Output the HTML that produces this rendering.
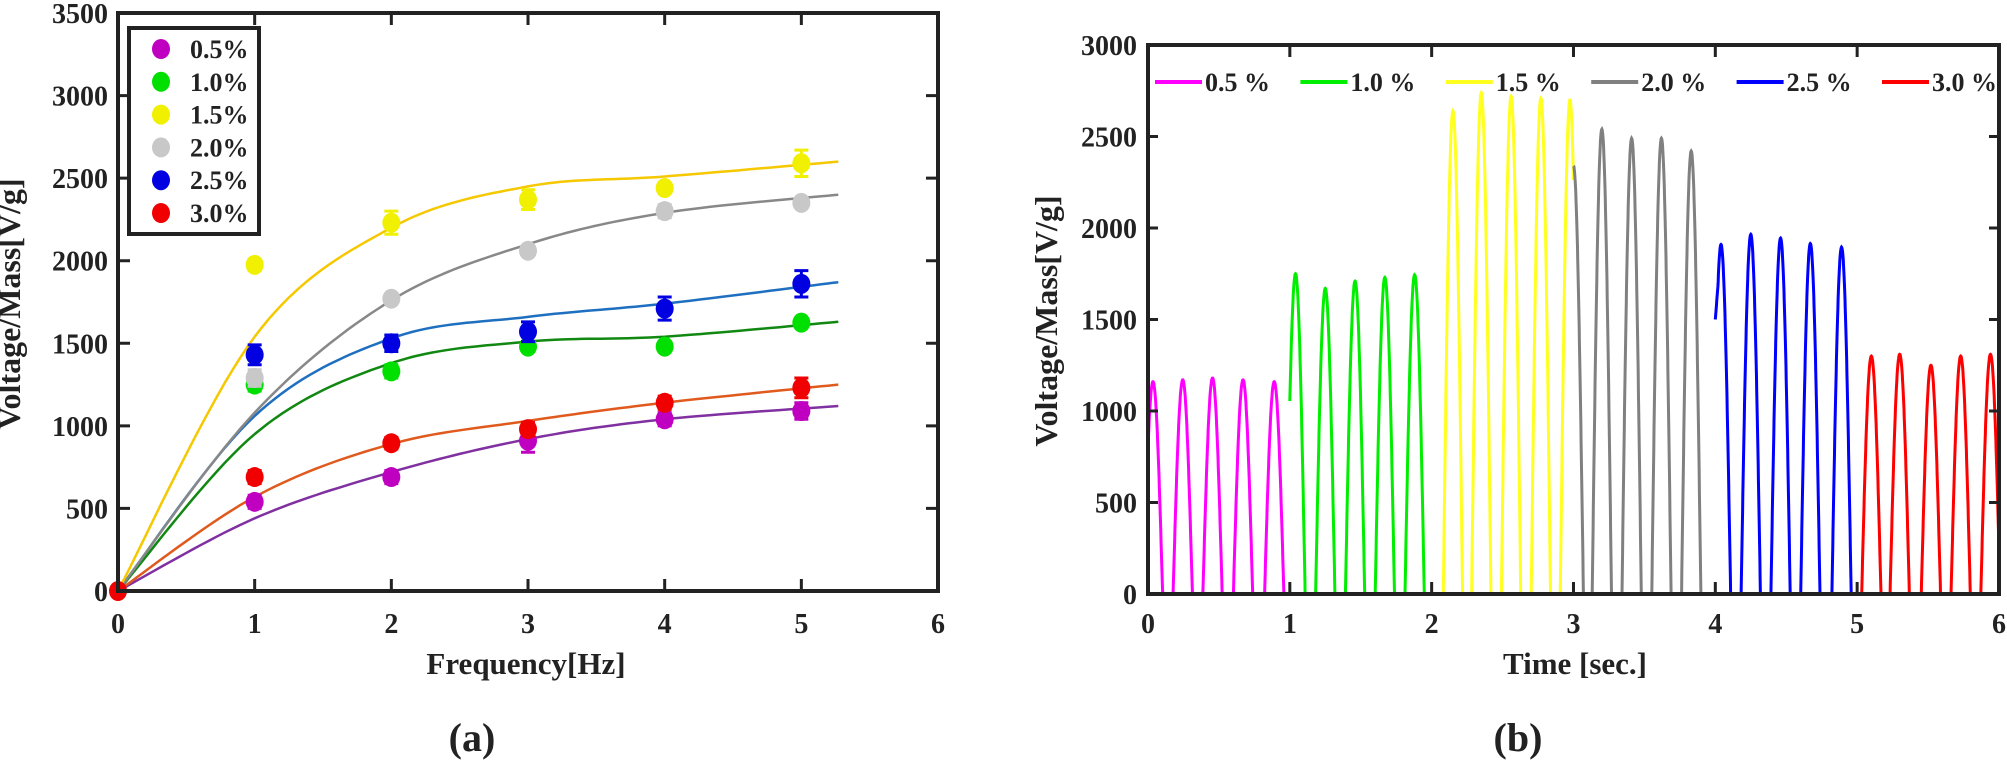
<!DOCTYPE html>
<html><head><meta charset="utf-8"><style>
html,body{margin:0;padding:0;background:#fff;}
svg text{font-family:"Liberation Serif",serif;font-weight:bold;fill:#222;}
</style></head><body>
<svg id="s" width="2007" height="763" viewBox="0 0 2007 763" xmlns="http://www.w3.org/2000/svg">
<g id="L"></g><g id="R"></g>
<text x="20" y="304" font-size="32" text-anchor="middle" transform="rotate(-90 20 304)">Voltage/Mass[V/g]</text>
<text x="526" y="674" font-size="31" text-anchor="middle">Frequency[Hz]</text>
<text x="472" y="751" font-size="40" text-anchor="middle">(a)</text>
<text x="1057" y="321" font-size="32" text-anchor="middle" transform="rotate(-90 1057 321)">Voltage/Mass[V/g]</text>
<text x="1575" y="674" font-size="31" text-anchor="middle">Time [sec.]</text>
<text x="1518" y="751" font-size="40" text-anchor="middle">(b)</text>
</svg>
<script>
var NS="http://www.w3.org/2000/svg";
function el(p,t,a,txt){var e=document.createElementNS(NS,t);for(var k in a)e.setAttribute(k,a[k]);if(txt!==undefined)e.textContent=txt;p.appendChild(e);return e;}
var L=document.getElementById('L'),R=document.getElementById('R');
function LX(x){return 118+x*136.67;} function LY(y){return 591-y*578/3500;}
function spline(pts){var out=[];for(var i=0;i<pts.length-1;i++){var p0=pts[Math.max(0,i-1)],p1=pts[i],p2=pts[i+1],p3=pts[Math.min(pts.length-1,i+2)];for(var s=0;s<20;s++){var t=s/20,t2=t*t,t3=t2*t;var f=function(a,b,c,d){return 0.5*((2*b)+(-a+c)*t+(2*a-5*b+4*c-d)*t2+(-a+3*b-3*c+d)*t3);};out.push([f(p0[0],p1[0],p2[0],p3[0]),f(p0[1],p1[1],p2[1],p3[1])]);}}out.push(pts[pts.length-1]);return out;}
var fits=[["#8030a0",[440,720,920,1040,1120]],["#e05a1e",[570,890,1030,1140,1250]],["#118811",[950,1380,1510,1540,1630]],["#1f6fc0",[1060,1530,1660,1740,1870]],["#888888",[1080,1760,2100,2290,2400]],["#f5c800",[1540,2200,2450,2510,2600]]];
fits.forEach(function(f){var pts=[[0,0]];var xs=[1,2,3,4,5.27];for(var i=0;i<5;i++)pts.push([xs[i],f[1][i]]);var sp=spline(pts);var d=sp.map(function(p,i){return (i?'L':'M')+LX(p[0]).toFixed(1)+' '+LY(p[1]).toFixed(1);}).join('');el(L,'path',{d:d,fill:'none',stroke:f[0],'stroke-width':2.5});});
var data=[["#c000c0",[540,690,910,1040,1090],[40,40,70,40,50]],["#00e000",[1250,1330,1480,1480,1625],[40,40,30,15,15]],["#f0f000",[1975,2230,2370,2440,2590],[35,70,60,25,80]],["#c8c8c8",[1290,1770,2060,2300,2350],[50,25,30,40,25]],["#0000e0",[1430,1500,1570,1710,1860],[60,50,60,70,80]],["#f00000",[690,895,980,1140,1230],[40,35,40,40,60]]];
data.forEach(function(s){for(var i=0;i<5;i++){var x=LX(i+1),y=s[1][i],e=s[2][i];el(L,'path',{d:'M'+x+' '+LY(y-e)+'V'+LY(y+e)+'M'+(x-7)+' '+LY(y-e)+'h14M'+(x-7)+' '+LY(y+e)+'h14',stroke:s[0],'stroke-width':3,fill:'none'});el(L,'ellipse',{cx:x,cy:LY(y),rx:9,ry:10,fill:s[0]});}});
el(L,'ellipse',{cx:LX(0),cy:LY(0),rx:9,ry:10,fill:'#f00000'});
el(L,'rect',{x:118,y:13,width:820,height:578,fill:'none',stroke:'#222','stroke-width':4});
for(var i=0;i<=6;i++){var x=LX(i);el(L,'path',{d:'M'+x+' 591v-12M'+x+' 13v12',stroke:'#222','stroke-width':3});el(L,'text',{x:x,y:633,'font-size':28,'text-anchor':'middle'},String(i));}
for(var v=0;v<=3500;v+=500){var y=LY(v);el(L,'path',{d:'M118 '+y+'h12M938 '+y+'h-12',stroke:'#222','stroke-width':3});el(L,'text',{x:108,y:y+10,'font-size':28,'text-anchor':'end'},String(v));}
el(L,'rect',{x:129,y:28,width:130,height:206,fill:'#fff',stroke:'#222','stroke-width':4});
var labs=["0.5%","1.0%","1.5%","2.0%","2.5%","3.0%"];
for(var i=0;i<6;i++){var y=49+i*32.8;el(L,'ellipse',{cx:161,cy:y,rx:9,ry:10,fill:data[i][0]});el(L,'text',{x:190,y:y+9,'font-size':26},labs[i]);}
function RX(t){return 1148+t*141.83;} function RY(v){return 594-v*549/3000;}
var cols=["#ff00ff","#00ee00","#ffff20","#808080","#0000ff","#ff0000"];
var peaks=[[[0.035,1160],[0.245,1170],[0.455,1180],[0.67,1170],[0.89,1160]],[[1.04,1750],[1.25,1670],[1.46,1710],[1.67,1730],[1.88,1745]],[[2.15,2640],[2.35,2740],[2.56,2720],[2.77,2710],[2.975,2700]],[[3.2,2540],[3.41,2490],[3.62,2490],[3.83,2420]],[[4.04,1910],[4.25,1965],[4.46,1945],[4.67,1915],[4.89,1895]],[[5.1,1300],[5.3,1310],[5.52,1250],[5.73,1300],[5.94,1310]]];
for(var s=0;s<6;s++){var d='',first=true;for(var t=s;t<=s+1.0001;t+=0.002){var v=0;peaks[s].forEach(function(p){var dt=t-p[0];if(Math.abs(dt)<0.068)v=Math.max(v,p[1]*Math.cos(Math.PI*dt/0.136));});if(s==3&&t<3.07){v=Math.max(v,2340*Math.cos(Math.PI*(t-3)/0.14));}if(s==4&&t<4.04){v=Math.max(v,1500+(t-4)*10000);}if(s==1&&t<1.03){v=Math.max(v,700+(t-1)*35000);}v=Math.max(0,v);d+=(first?'M':'L')+RX(t).toFixed(1)+' '+RY(v).toFixed(1);first=false;}el(R,'path',{d:d,fill:'none',stroke:cols[s],'stroke-width':3});}
el(R,'rect',{x:1148,y:45,width:851,height:549,fill:'none',stroke:'#222','stroke-width':4});
for(var i=0;i<=6;i++){var x=RX(i);el(R,'path',{d:'M'+x+' 594v-12M'+x+' 45v12',stroke:'#222','stroke-width':3});el(R,'text',{x:x,y:633,'font-size':28,'text-anchor':'middle'},String(i));}
for(var v=0;v<=3000;v+=500){var y=RY(v);el(R,'path',{d:'M1148 '+y+'h10M1999 '+y+'h-10',stroke:'#222','stroke-width':3});el(R,'text',{x:1137,y:y+10,'font-size':28,'text-anchor':'end'},String(v));}
var rl=["0.5 %","1.0 %","1.5 %","2.0 %","2.5 %","3.0 %"];
for(var i=0;i<6;i++){var x=1155+i*145.4;el(R,'path',{d:'M'+x+' 82h47',stroke:cols[i],'stroke-width':4});el(R,'text',{x:x+50,y:91,'font-size':26},rl[i]);}
</script>
</body></html>
